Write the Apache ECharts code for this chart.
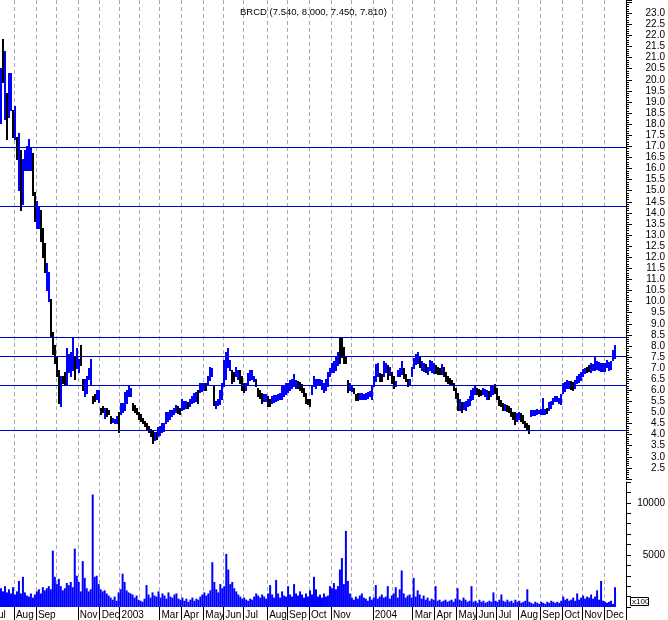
<!DOCTYPE html>
<html><head><meta charset="utf-8">
<script src="https://cdn.jsdelivr.net/npm/echarts@6/dist/echarts.min.js"></script>
<style>html,body{margin:0;padding:0;background:#fff}#c{width:668px;height:620px}</style>
</head><body><div id="c"></div>
<script>
const titleText = 'BRCD (7.540, 8.000, 7.450, 7.810)';
// one slot = two trading days
const lows = [18.05,19.86,18.2,17.3,18.3,18.6,17.4,17.3,16.4,15.0,
14.1,14.4,15.9,15.9,15.9,15.9,14.8,13.6,13.3,13.3,
12.7,12.0,11.3,10.5,10.0,8.4,7.6,7.2,6.6,5.4,
5.25,6.3,6.2,6.2,6.8,6.6,6.9,6.5,7.0,6.8,
7.1,6.0,5.7,5.85,6.5,6.2,5.4,5.5,5.6,5.45,
4.9,5.0,4.75,4.8,4.9,4.5,4.55,4.5,4.5,4.1,
4.9,5.0,5.1,5.4,5.7,5.7,5.1,5.0,4.9,4.7,
4.6,4.5,4.35,4.2,4.1,3.9,3.6,3.75,3.8,3.9,
3.95,4.1,4.15,4.5,4.6,4.7,4.8,4.9,5.0,4.95,
4.9,5.1,5.15,5.2,5.2,5.25,5.4,5.45,5.5,5.4,
5.9,5.95,6.0,6.0,6.2,6.45,6.6,5.3,5.2,5.3,
5.35,5.6,6.15,6.5,7.05,6.9,6.3,6.4,6.6,6.5,
6.3,6.0,5.9,6.0,6.2,6.45,6.5,6.4,6.15,5.7,
5.65,5.4,5.5,5.5,5.25,5.25,5.4,5.45,5.5,5.55,
5.6,5.6,5.7,5.8,5.9,6.0,6.1,6.15,6.1,6.1,
6.0,5.9,5.7,5.4,5.35,5.25,5.8,6.15,6.1,6.2,
6.2,6.05,5.9,6.0,6.15,6.6,6.8,6.8,6.9,7.1,
7.2,7.5,7.2,7.2,5.9,6.0,5.95,5.85,5.55,5.55,
5.6,5.6,5.6,5.6,5.65,5.7,5.6,6.15,6.4,6.6,
6.4,6.4,6.6,6.8,6.5,6.65,6.3,6.1,6.15,6.6,
6.6,6.7,6.55,6.4,6.15,6.2,6.6,7.0,7.15,7.2,
7.05,6.9,6.85,6.8,6.7,6.9,6.8,6.75,6.75,6.7,
6.7,6.7,6.6,6.4,6.3,6.25,6.2,6.0,5.65,5.1,
5.1,5.0,5.15,5.1,5.25,5.3,5.55,5.6,5.8,5.8,
5.7,5.75,5.8,5.7,5.6,5.6,5.7,5.8,5.85,5.6,
5.3,5.25,5.1,5.1,5.05,5.0,4.8,4.7,4.45,4.6,
4.7,4.6,4.5,4.3,4.2,4.05,4.8,4.85,4.85,4.9,
4.95,4.9,4.9,4.9,4.95,5.1,5.2,5.35,5.5,5.5,
5.4,5.35,5.85,5.95,6.1,6.1,6.05,6.0,6.1,6.3,
6.35,6.45,6.6,6.75,6.8,6.85,6.8,6.9,6.9,6.95,
6.9,6.85,6.85,6.85,7.05,6.9,6.95,7.35,7.45];
const highs = [20.53,21.8,21.3,19.4,20.3,20.3,18.6,18.8,17.4,17.6,
16.8,16.4,16.8,17.0,17.3,16.9,16.7,14.9,14.5,14.3,
14.1,13.3,12.6,11.7,11.3,10.1,8.6,8.0,7.5,6.9,
6.6,6.6,6.8,7.9,7.6,7.7,8.4,7.5,7.9,7.4,
8.0,6.5,6.5,6.6,7.0,7.4,5.7,5.8,6.0,6.0,
5.2,5.25,5.2,5.2,5.1,4.8,4.75,4.7,4.8,5.0,
5.4,5.4,5.9,6.0,6.2,6.1,5.4,5.3,5.2,5.0,
4.9,4.75,4.6,4.5,4.35,4.25,4.2,4.1,4.1,4.3,
4.35,4.5,4.5,5.0,5.0,5.1,5.1,5.2,5.3,5.25,
5.2,5.6,5.5,5.5,5.45,5.6,5.7,5.85,5.9,6.0,
6.3,6.3,6.3,6.3,6.6,7.05,7.0,6.2,5.5,5.6,
6.0,6.3,7.35,7.7,7.9,7.35,6.9,6.8,7.05,6.9,
6.9,6.6,6.3,6.3,6.75,6.9,6.9,6.6,6.5,6.1,
6.0,5.85,5.8,5.8,5.7,5.6,5.7,5.75,5.75,5.8,
5.85,6.2,6.2,6.3,6.3,6.45,6.5,6.7,6.45,6.4,
6.35,6.25,6.1,5.85,5.6,5.6,6.2,6.6,6.5,6.5,
6.5,6.45,6.3,6.5,6.8,7.0,7.2,7.3,7.5,7.7,
8.35,8.4,7.95,7.5,6.45,6.3,6.2,6.1,5.8,5.85,
5.85,5.85,5.8,5.85,5.9,5.95,6.2,6.6,7.15,7.2,
6.75,6.7,7.3,7.2,7.1,7.05,6.8,6.6,6.4,6.9,
7.0,7.3,7.0,6.7,6.5,6.5,7.05,7.45,7.6,7.7,
7.5,7.3,7.2,7.15,7.05,7.35,7.3,7.2,7.1,7.05,
7.0,7.15,7.05,6.8,6.6,6.55,6.45,6.3,6.1,5.85,
5.6,5.45,5.45,5.5,5.6,5.7,6.0,6.1,6.15,6.1,
6.05,6.0,6.1,6.05,6.0,5.95,6.15,6.2,6.25,6.1,
5.7,5.55,5.4,5.35,5.3,5.25,5.2,5.0,5.0,4.95,
5.0,4.95,4.85,4.6,4.5,4.4,5.1,5.1,5.1,5.15,
5.1,5.15,5.65,5.15,5.2,5.45,5.5,5.65,5.7,5.7,
5.65,5.8,6.3,6.35,6.45,6.4,6.4,6.35,6.45,6.6,
6.7,6.8,6.95,7.0,7.05,7.1,7.2,7.15,7.5,7.3,
7.25,7.2,7.2,7.2,7.35,7.25,7.3,7.8,8.0];
// 1 = up bar (blue), 0 = down bar (black)
const ups = [1,0,1,0,1,1,0,1,0,1, 0,1,1,1,1,1,0,0,1,1, 0,0,0,1,1,0,0,0,0,0,
1,0,0,1,1,1,1,0,1,1, 0,0,1,1,1,1,0,0,1,1, 0,0,1,0,0,0,1,1,1,0,
1,1,1,1,1,1,0,0,0,0, 0,0,0,0,0,0,0,1,0,1, 1,1,1,1,1,1,1,1,1,0,
0,1,1,1,0,1,1,1,1,0, 1,1,1,0,1,1,1,0,1,1, 1,1,1,1,1,1,0,0,1,1,
0,0,0,1,1,1,1,1,0,0, 0,0,1,1,0,0,1,1,1,1, 1,1,1,1,1,1,1,1,1,0,
0,0,0,0,0,0,1,1,1,1, 1,1,1,1,1,1,1,1,1,1, 0,0,0,0,0,1,1,0,0,0,
1,1,1,1,1,1,1,1,1,1, 0,0,1,1,0,1,0,0,1,1, 1,1,0,0,0,1,1,1,1,1,
0,1,1,0,1,1,1,1,0,0, 0,1,0,0,0,0,0,0,0,0, 1,0,1,1,1,1,1,1,1,0,
0,0,1,1,1,0,1,1,0,0, 0,0,0,1,0,0,0,0,0,1, 1,0,0,0,0,0,1,1,1,1,
1,1,1,1,0,1,1,1,1,1, 1,1,1,1,1,1,0,0,1,1, 1,1,1,1,0,0,1,1,1,1,
1,1,1,1,1,1,1,1,1];
// volume in hundreds of shares
const volumes = [1800,1500,2000,1400,1700,1300,1900,1200,1500,2500,
1300,2900,1400,1100,1000,1300,900,1200,1500,1700,
1300,1900,1600,1800,2000,1700,5400,2900,2200,2700,
2000,1600,1800,2300,2100,2400,1900,5600,3000,2400,
1500,4400,2800,1800,1500,1700,10800,2900,3000,2200,
1700,1500,1600,1300,1100,900,700,1000,600,1400,
1700,3200,2400,1600,1400,1300,1200,900,1100,700,
600,500,800,2100,1200,900,1400,1100,1000,1500,
900,1300,1100,800,1400,1000,900,1200,1300,800,
700,900,600,800,500,700,900,600,800,700,
1000,1200,1400,1100,1300,1600,4300,2400,1700,1400,
2200,1800,2000,5100,3600,2200,2400,1800,1500,1200,
1000,800,900,700,600,800,700,1000,1300,1100,
900,1200,1000,800,1300,2100,1200,900,2600,1300,
900,1500,1100,1000,2000,1200,1000,2200,1300,1100,
1500,1200,900,1300,1000,1600,1200,2900,1700,1000,
1200,900,1300,1000,1100,2000,1800,2300,1700,2000,
3600,4700,2200,7300,2500,1300,900,700,1000,800,
1100,1300,900,800,600,1000,700,900,2100,800,
1000,1200,900,1000,2000,800,1100,1300,1900,900,
1700,3500,1300,900,1100,1200,900,2800,1000,1600,
1200,800,1100,700,900,600,800,700,2000,600,
700,500,600,700,500,600,700,500,800,1800,
700,600,900,700,500,600,2000,500,600,400,
700,500,600,400,500,600,500,1400,600,500,
700,1200,600,500,700,500,600,400,700,500,
600,400,500,600,1700,500,400,300,500,400,
300,500,400,300,500,400,600,500,400,500,
400,600,1000,700,800,600,700,900,600,1300,
700,900,1100,800,1000,900,1200,800,1000,1600,
700,2500,600,500,400,500,600,300,1900];
const monthStarts = [7,18,28,39,50,60,70,80,91,102,112,122,134,144,155,166,176,187,197,207,218,229,239,249,260,271,282,292,303];
const monthNames = ['Aug','Sep','','Nov','Dec','2003','','Mar','Apr','May','Jun','Jul','Aug','Sep','Oct','Nov','','2004','','Mar','Apr','May','Jun','Jul','Aug','Sep','Oct','Nov','Dec'];
const firstMonthName = 'Jul';
const levels = [16.97, 14.31, 8.41, 7.54, 6.23, 4.20];
const slotCount = 314;

const cats = Array.from({length: slotCount}, (_, i) => String(i));
const labelAt = {};
monthStarts.forEach((s, k) => { labelAt[s] = monthNames[k]; });
const isMonth = i => labelAt[i] !== undefined;
const isLabeled = i => !!labelAt[i];
const FONT = 'Liberation Sans, Arial, sans-serif';
const priceData = lows.map((l, i) => [i, l, highs[i], ups[i]]);
const monthGrid = {show: true, interval: (i) => isMonth(i), lineStyle: {color: '#aaa6c2', width: 1, type: [4, 3]}};

function renderBar(params, api) {
  const i = api.value(0);
  const top = api.coord([i, api.value(2)]);
  const bot = api.coord([i, api.value(1)]);
  const x = Math.round(top[0]) - 1;
  const y0 = Math.floor(top[1]);
  const y1 = Math.max(Math.ceil(bot[1]), y0 + 1);
  return {type: 'rect', shape: {x: x, y: y0, width: 2, height: y1 - y0},
    style: {fill: api.value(3) ? '#0000ff' : '#000000'}};
}

const chart = echarts.init(document.getElementById('c'), null, {renderer: 'canvas'});
chart.setOption({
  animation: false,
  backgroundColor: '#ffffff',
  title: {text: titleText, left: 235, top: 2, textStyle: {fontSize: 9.5, fontWeight: 'normal', fontFamily: FONT, color: '#000'}},
  grid: [
    {left: 0, top: 0, width: 628, height: 479},
    {left: 0, top: 482, width: 628, height: 125}
  ],
  xAxis: [
    {type: 'category', gridIndex: 0, data: cats, boundaryGap: true,
     axisLine: {show: false}, axisTick: {show: false}, axisLabel: {show: false}, splitLine: monthGrid},
    {type: 'category', gridIndex: 1, data: cats, boundaryGap: true,
     axisLine: {show: false},
     axisTick: {show: true, interval: (i) => isLabeled(i), length: 13, lineStyle: {color: '#000'}},
     axisLabel: {show: true, interval: (i) => isLabeled(i), formatter: (v) => labelAt[+v] || '',
       align: 'left', margin: 3, fontSize: 10, fontFamily: FONT, color: '#000', padding: [0, 0, 0, 1]},
     splitLine: monthGrid}
  ],
  yAxis: [
    {type: 'value', gridIndex: 0, position: 'right', min: 2, max: 23.6, interval: 0.5,
     axisLine: {show: true, lineStyle: {color: '#000'}},
     axisTick: {show: true, length: 6, lineStyle: {color: '#000'}},
     minorTick: {show: true, splitNumber: 5, length: 3, lineStyle: {color: '#000'}},
     splitLine: {show: false},
     axisLabel: {align: 'right', margin: 39, fontSize: 10, fontFamily: FONT, color: '#000',
       formatter: (v) => (v < 2.4 || v > 23.1) ? '' : v.toFixed(1)}},
    {type: 'value', gridIndex: 1, position: 'right', min: 0, max: 12000, interval: 1000,
     axisLine: {show: true, lineStyle: {color: '#000'}},
     axisTick: {show: true, length: 5, lineStyle: {color: '#000'}},
     splitLine: {show: false},
     axisLabel: {align: 'right', margin: 39, fontSize: 10, fontFamily: FONT, color: '#000',
       formatter: (v) => (v === 5000 || v === 10000) ? String(v) : ''}}
  ],
  series: [
    {type: 'custom', xAxisIndex: 0, yAxisIndex: 0, data: priceData, renderItem: renderBar, z: 3,
     encode: {x: 0, y: [1, 2]}},
    {type: 'line', xAxisIndex: 0, yAxisIndex: 0, data: [], z: 4, silent: true,
     markLine: {silent: true, symbol: ['none', 'none'], label: {show: false},
       lineStyle: {color: '#0000cc', width: 1, type: 'solid'},
       data: levels.map(v => ({yAxis: v}))}},
    {type: 'bar', xAxisIndex: 1, yAxisIndex: 1, data: volumes, barWidth: 2, barGap: '0%', z: 3,
     itemStyle: {color: '#0000ff'}}
  ],
  graphic: [
    {type: 'text', x: -7, y: 610, style: {text: firstMonthName, font: '10px ' + FONT, fill: '#000'}},
    {type: 'rect', shape: {x: 630.5, y: 597.5, width: 18, height: 8}, style: {fill: '#fff', stroke: '#000', lineWidth: 1}},
    {type: 'text', x: 632, y: 598, style: {text: 'x100', font: '8px ' + FONT, fill: '#000'}}
  ]
});
</script></body></html>
